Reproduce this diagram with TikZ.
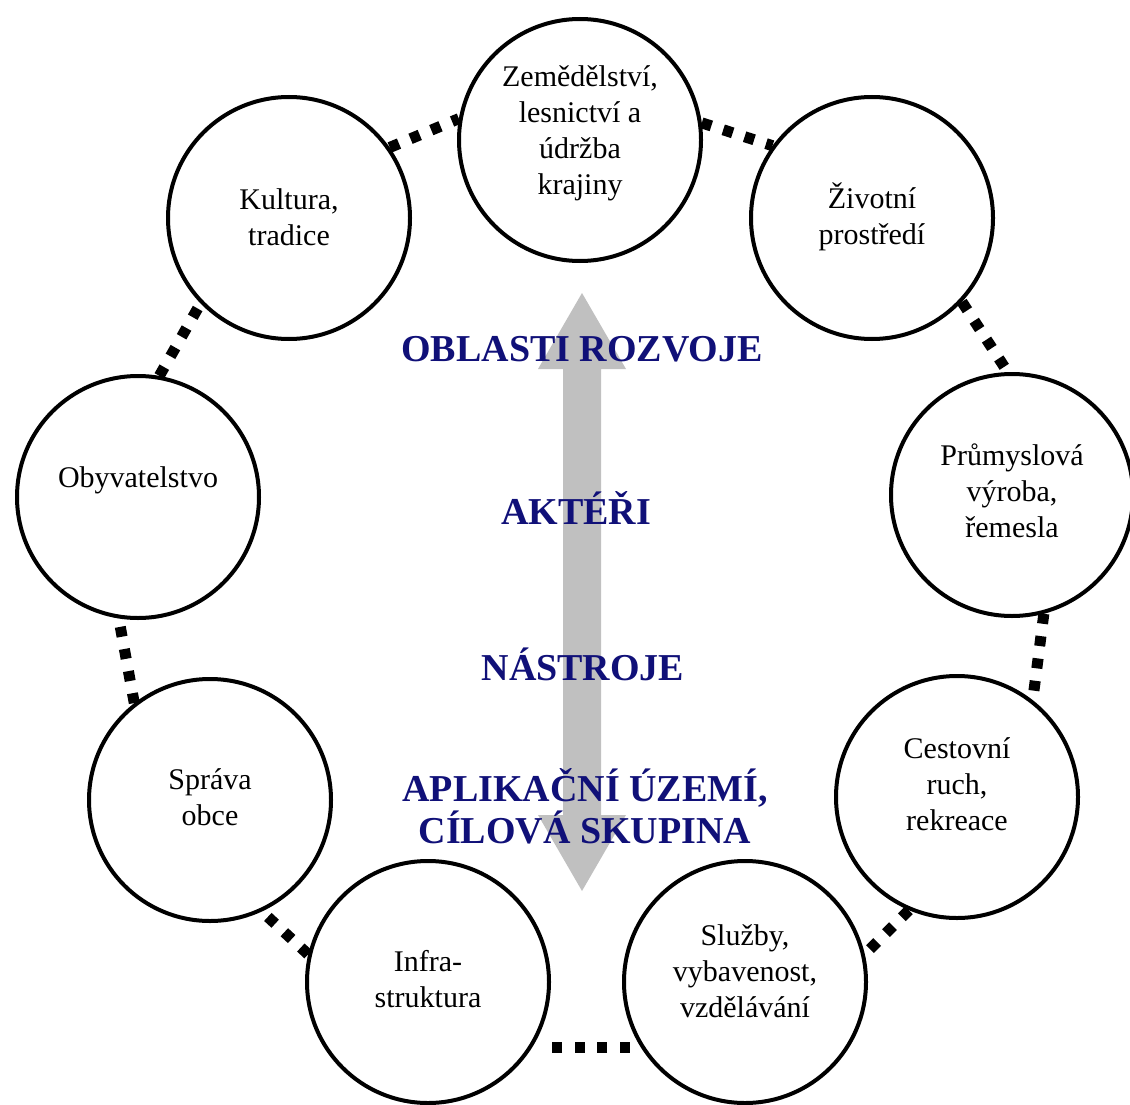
\documentclass[tikz,border=0pt]{standalone}
\usepackage{fontspec}
\setmainfont{Liberation Serif}
\definecolor{titleblue}{RGB}{16,16,120}
\definecolor{arrowgray}{RGB}{192,192,192}
\begin{document}
\begin{tikzpicture}[x=1pt,y=-1pt,
  ring/.style={circle,draw=black,line width=4pt,minimum size=242pt,inner sep=0pt},
  txt/.style={align=center,font=\fontsize{30}{36}\selectfont,inner sep=0pt},
  ttl/.style={align=center,text=titleblue,font=\fontsize{38}{42}\selectfont\bfseries,inner sep=0pt},
  dotlink/.style={line width=11pt,dash pattern=on 10pt off 12.5pt}]
\useasboundingbox (0,0) rectangle (1130,1105);
% central double arrow
\fill[arrowgray] (582,293) -- (626,369) -- (601,369) -- (601,815) -- (626,815) -- (582,891)
  -- (538,815) -- (563,815) -- (563,369) -- (538,369) -- cycle;
% circles
\node[ring] (zem) at (580,140) {};
\node[ring] (ziv) at (872,218) {};
\node[ring] (prum) at (1012,495) {};
\node[ring] (cest) at (957,797) {};
\node[ring] (sluz) at (745,982) {};
\node[ring] (infra) at (428,982) {};
\node[ring] (sprava) at (210,800) {};
\node[ring] (obyv) at (138,497) {};
\node[ring] (kult) at (289,218) {};
% texts
\node[txt] (zemt) at (580,133) {Zemědělství,\\lesnictví a\\údržba\\krajiny};
\node[txt] (zivt) at (872,217) {Životní\\prostředí};
\node[txt] (prumt) at (1012,491) {Průmyslová\\výroba,\\řemesla};
\node[txt] (cestt) at (957,784) {Cestovní\\ruch,\\rekreace};
\node[txt] (sluzt) at (745,971) {Služby,\\vybavenost,\\vzdělávání};
\node[txt] (infrat) at (428,979) {Infra-\\struktura};
\node[txt] (spravat) at (210,797) {Správa\\obce};
\node[txt] (obyvt) at (138,480) {Obyvatelstvo};
\node[txt] (kultt) at (289,217) {Kultura,\\tradice};
% titles
\node[ttl] (t1) at (582,349) {OBLASTI ROZVOJE};
\node[ttl] (t2) at (576,508) {AKTÉŘI};
\node[ttl] (t3) at (583,664) {NÁSTROJE};
\node[ttl] (t4) at (585,806) {APLIKAČNÍ ÚZEMÍ,\\CÍLOVÁ SKUPINA};
% dotted connectors
\draw[dotlink] (kult.35) -- (zem.170);
\draw[dotlink] (zem.8) -- (ziv.144);
\draw[dotlink] (ziv.-43) -- (prum.92);
\draw[dotlink] (prum.-75) -- (cest.52);
\draw[dotlink] (cest.-113) -- (sluz.13);
\draw[dotlink,shorten <=11pt,shorten >=11pt] (sluz.-148) -- (infra.-32);
\draw[dotlink] (infra.167) -- (sprava.-65);
\draw[dotlink] (sprava.128) -- (obyv.-99);
\draw[dotlink] (obyv.80) -- (kult.-136);
\end{tikzpicture}
\end{document}
